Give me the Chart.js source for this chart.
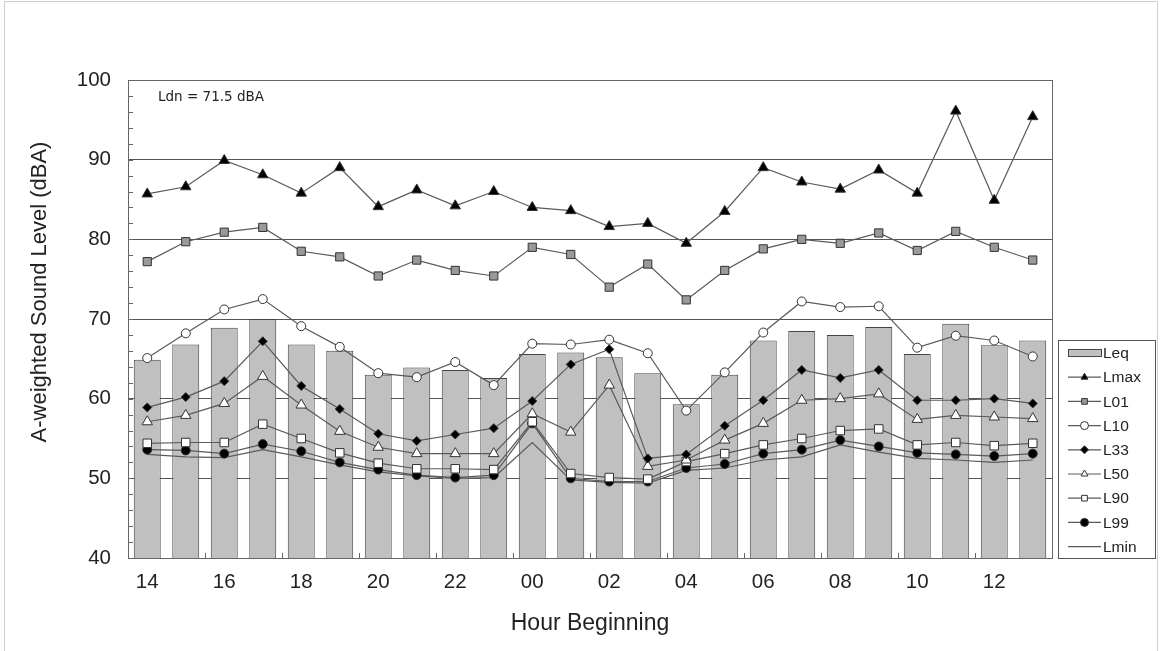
<!DOCTYPE html>
<html>
<head>
<meta charset="utf-8">
<script src="https://cdn.jsdelivr.net/npm/chart.js"></script>
<style>
  body { margin: 0; background: #fff; }
  canvas { display: block; }
</style>
</head>
<body>
<canvas id="myChart" width="1161" height="651"></canvas>
<script>
// hour beginning (14:00 to 13:00 the next day)
const hours = ["14", "15", "16", "17", "18", "19", "20", "21", "22", "23", "00", "01",
               "02", "03", "04", "05", "06", "07", "08", "09", "10", "11", "12", "13"];
const yTicks = [40, 50, 60, 70, 80, 90, 100];

const leq  = [64.9, 66.8, 68.9, 70.0, 66.8, 66.0, 63.0, 63.9, 63.6, 62.6, 65.6, 65.8,
              65.2, 63.2, 59.3, 63.0, 67.3, 68.5, 68.0, 69.0, 65.6, 69.4, 66.7, 67.3];
const lmax = [85.7, 86.6, 89.9, 88.1, 85.8, 89.0, 84.1, 86.2, 84.2, 86.0, 84.0, 83.6,
              81.6, 82.0, 79.5, 83.5, 89.0, 87.2, 86.3, 88.7, 85.8, 96.1, 84.9, 95.4];
const l01  = [77.2, 79.7, 80.9, 81.5, 78.5, 77.8, 75.4, 77.4, 76.1, 75.4, 79.0, 78.1,
              74.0, 76.9, 72.4, 76.1, 78.8, 80.0, 79.5, 80.8, 78.6, 81.0, 79.0, 77.4];
const l10  = [65.1, 68.2, 71.2, 72.5, 69.1, 66.5, 63.2, 62.7, 64.6, 61.7, 66.9, 66.8,
              67.4, 65.7, 58.5, 63.3, 68.3, 72.2, 71.5, 71.6, 66.4, 67.9, 67.3, 65.3];
const l33  = [58.9, 60.2, 62.2, 67.2, 61.6, 58.7, 55.6, 54.7, 55.5, 56.3, 59.7, 64.3,
              66.2, 52.5, 53.0, 56.6, 59.8, 63.6, 62.6, 63.6, 59.8, 59.8, 60.0, 59.4];
const l50  = [57.1, 57.9, 59.4, 62.8, 59.2, 55.9, 53.9, 53.1, 53.1, 53.1, 58.1, 55.8,
              61.7, 51.5, 52.3, 54.8, 56.9, 59.8, 60.0, 60.6, 57.4, 57.9, 57.7, 57.5];
const l90  = [54.4, 54.5, 54.5, 56.8, 55.0, 53.2, 51.9, 51.2, 51.2, 51.1, 57.1, 50.6,
              50.1, 49.9, 52.1, 53.1, 54.2, 55.0, 56.0, 56.2, 54.2, 54.5, 54.1, 54.4];
const l99  = [53.6, 53.5, 53.1, 54.3, 53.4, 52.0, 51.1, 50.4, 50.1, 50.4, 56.9, 50.0,
              49.6, 49.6, 51.3, 51.8, 53.1, 53.6, 54.8, 54.0, 53.2, 53.0, 52.8, 53.1];
const lmin = [53.0, 52.7, 52.6, 53.6, 52.7, 51.7, 50.8, 50.3, 50.0, 50.1, 54.5, 49.8,
              49.5, 49.4, 51.0, 51.3, 52.3, 52.7, 54.2, 53.3, 52.5, 52.3, 52.0, 52.3];

const ldnText = "Ldn = 71.5 dBA";
const yTitle = "A-weighted Sound Level (dBA)";

const lineColor = "#5a5a5a";
const font = "'Liberation Sans', Arial";

function lineSet(label, data, style, radius, fill) {
  return {
    type: "line",
    label: label,
    data: data,
    borderColor: lineColor,
    borderWidth: 1.2,
    pointStyle: style,
    pointRadius: radius,
    pointBackgroundColor: fill,
    pointBorderColor: "#333",
    pointBorderWidth: 1,
    tension: 0,
    order: 1
  };
}

// draw a small marker (used by the legend)
function marker(ctx, style, x, y, r, fill) {
  ctx.beginPath();
  if (style === "triangle") {
    ctx.moveTo(x, y - r);
    ctx.lineTo(x + r * 0.87, y + r * 0.5);
    ctx.lineTo(x - r * 0.87, y + r * 0.5);
    ctx.closePath();
  } else if (style === "rect") {
    ctx.rect(x - r * 0.71, y - r * 0.71, r * 1.42, r * 1.42);
  } else if (style === "rectRot") {
    ctx.moveTo(x, y - r);
    ctx.lineTo(x + r, y);
    ctx.lineTo(x, y + r);
    ctx.lineTo(x - r, y);
    ctx.closePath();
  } else if (style === "circle") {
    ctx.arc(x, y, r, 0, Math.PI * 2);
  } else {
    return;
  }
  ctx.fillStyle = fill;
  ctx.fill();
  ctx.strokeStyle = "#333";
  ctx.lineWidth = 1;
  ctx.stroke();
}

const extras = {
  id: "extras",
  beforeDraw(chart) {
    const ctx = chart.ctx;
    ctx.save();
    ctx.fillStyle = "#fff";
    ctx.fillRect(0, 0, chart.width, chart.height);
    // picture frame
    ctx.strokeStyle = "#cfcfcf";
    ctx.lineWidth = 1;
    ctx.strokeRect(4.5, 1.5, 1153, 660);
    ctx.restore();
  },
  afterDraw(chart) {
    const ctx = chart.ctx;
    const a = chart.chartArea;
    const x = chart.scales.x;
    const y = chart.scales.y;
    ctx.save();

    // plot border
    ctx.strokeStyle = "#666";
    ctx.lineWidth = 1;
    ctx.strokeRect(Math.round(a.left) + 0.5, Math.round(a.top) + 0.5,
                   Math.round(a.width), Math.round(a.height));

    // minor ticks on the y axis
    ctx.beginPath();
    for (let v = yTicks[0] + 2; v < yTicks[yTicks.length - 1]; v += 2) {
      const py = Math.round(y.getPixelForValue(v)) + 0.5;
      ctx.moveTo(a.left, py);
      ctx.lineTo(a.left + 5, py);
    }
    // ticks between every second hour
    for (let i = 2; i < hours.length; i += 2) {
      const px = Math.round((x.getPixelForValue(i - 1) + x.getPixelForValue(i)) / 2) + 0.5;
      ctx.moveTo(px, a.bottom);
      ctx.lineTo(px, a.bottom - 5);
    }
    ctx.stroke();

    // y axis title (sits a little above the middle of the plot)
    ctx.save();
    ctx.translate(40, (a.top + a.bottom) / 2 - 27);
    ctx.rotate(-Math.PI / 2);
    ctx.fillStyle = "#222";
    ctx.font = "22px " + font;
    ctx.textAlign = "center";
    ctx.textBaseline = "middle";
    ctx.fillText(yTitle, 0, 0);
    ctx.restore();

    // Ldn note
    ctx.fillStyle = "#222";
    ctx.font = "13.5px 'DejaVu Sans'";
    ctx.textBaseline = "middle";
    ctx.textAlign = "left";
    ctx.fillText(ldnText, a.left + 30, a.top + 17);

    // legend box
    const lx = 1058, ly = 340, lw = 97, lh = 218;
    ctx.fillStyle = "#fff";
    ctx.fillRect(lx, ly, lw, lh);
    ctx.strokeStyle = "#555";
    ctx.strokeRect(lx + 0.5, ly + 0.5, lw, lh);
    ctx.font = "15.5px " + font;
    chart.data.datasets.forEach((ds, i) => {
      const cy = ly + 13 + i * 24.2;
      const x0 = lx + 10, x1 = lx + 43;
      if (ds.type === "bar") {
        ctx.fillStyle = ds.backgroundColor;
        ctx.fillRect(x0, cy - 4, x1 - x0, 8);
        ctx.strokeStyle = "#444";
        ctx.strokeRect(x0 + 0.5, cy - 3.5, x1 - x0, 7);
      } else {
        ctx.strokeStyle = lineColor;
        ctx.lineWidth = 1.2;
        ctx.beginPath();
        ctx.moveTo(x0, cy);
        ctx.lineTo(x1, cy);
        ctx.stroke();
        if (ds.pointRadius > 0) {
          marker(ctx, ds.pointStyle, (x0 + x1) / 2, cy, 4, ds.pointBackgroundColor);
        }
      }
      ctx.fillStyle = "#222";
      ctx.fillText(ds.label, x1 + 2, cy + 1);
    });
    ctx.restore();
  }
};

const ctx = document.getElementById("myChart").getContext("2d");

const chart = new Chart(ctx, {
  type: "bar",
  data: {
    labels: hours,
    datasets: [
      {
        type: "bar",
        label: "Leq",
        data: leq,
        backgroundColor: "#c0c0c0",
        borderColor: "#444",
        borderWidth: 1,
        barPercentage: 0.7,
        categoryPercentage: 1,
        order: 5
      },
      lineSet("Lmax", lmax, "triangle", 6, "#000"),
      lineSet("L01", l01, "rect", 5.8, "#999"),
      lineSet("L10", l10, "circle", 4.5, "#fff"),
      lineSet("L33", l33, "rectRot", 4.5, "#000"),
      lineSet("L50", l50, "triangle", 6, "#fff"),
      lineSet("L90", l90, "rect", 6, "#fff"),
      lineSet("L99", l99, "circle", 4.5, "#000"),
      lineSet("Lmin", lmin, "circle", 0, "#fff")
    ]
  },
  options: {
    responsive: false,
    animation: false,
    layout: { padding: { top: 80, right: 109, left: 0, bottom: 0 } },
    scales: {
      x: {
        offset: true,
        grid: { display: false, drawTicks: false },
        border: { display: false },
        afterFit(s) { s.height = 93; },
        ticks: {
          autoSkip: false,
          maxRotation: 0,
          padding: 12,
          color: "#222",
          font: { family: font, size: 20.5 },
          callback: (v, i) => (i % 2 === 0 ? hours[i] : "")
        },
        title: {
          display: true,
          text: "Hour Beginning",
          color: "#222",
          font: { family: font, size: 23 },
          padding: { top: 14, bottom: 14 }
        }
      },
      y: {
        min: yTicks[0],
        max: yTicks[yTicks.length - 1],
        afterFit(s) { s.width = 128; },
        afterBuildTicks(s) { s.ticks = yTicks.map(v => ({ value: v })); },
        grid: {
          drawTicks: false,
          color: c => (c.tick && (c.tick.value === yTicks[0] || c.tick.value === yTicks[yTicks.length - 1]) ? "rgba(0,0,0,0)" : "#555")
        },
        border: { display: false },
        ticks: {
          padding: 17,
          color: "#222",
          font: { family: font, size: 20.5 }
        },
        title: { display: false }
      }
    },
    plugins: {
      legend: { display: false },
      tooltip: { enabled: false }
    }
  },
  plugins: [extras]
});
</script>
</body>
</html>
